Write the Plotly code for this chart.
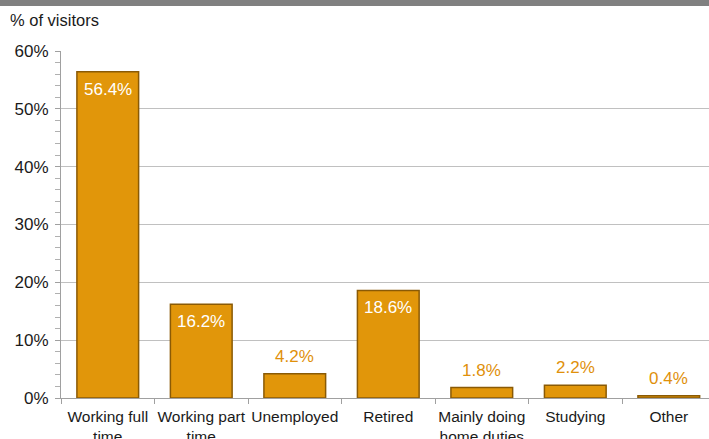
import plotly.graph_objects as go

categories = ["Working full<br>time", "Working part<br>time", "Unemployed", "Retired",
              "Mainly doing<br>home duties", "Studying", "Other"]
values = [56.4, 16.2, 4.2, 18.6, 1.8, 2.2, 0.4]
y_ticks = [0, 10, 20, 30, 40, 50, 60]
y_tick_labels = [f"{t}%" for t in y_ticks]

BAR = "#E1960A"
EDGE = "#8A5A05"
LABEL_ORANGE = "#E0900A"
FONT = "Liberation Sans, Arial, sans-serif"

fig = go.Figure()
fig.add_trace(go.Bar(
    x=list(range(len(categories))), y=values, width=0.66,
    marker=dict(color=BAR, line=dict(color=EDGE, width=1.5)),
    hoverinfo="skip",
))

for i, v in enumerate(values):
    inside = v > 10
    fig.add_annotation(
        x=i, y=v, xref="x", yref="y", text=f"{v:.1f}%", showarrow=False,
        yanchor="top" if inside else "bottom",
        yshift=-6 if inside else 6,
        font=dict(family=FONT, size=17, color="white" if inside else LABEL_ORANGE),
    )

fig.add_annotation(x=0, y=1, xref="paper", yref="paper", xanchor="left", yanchor="top",
                   text="% of visitors", showarrow=False,
                   font=dict(family=FONT, size=16.5, color="#1a1a1a"),
                   xshift=8 - 61, yshift=51 - 9)

fig.update_layout(
    width=709, height=439,
    margin=dict(l=61, r=0, t=51, b=41, autoexpand=False),
    plot_bgcolor="white", paper_bgcolor="white",
    showlegend=False,
    font=dict(family=FONT, size=16, color="#1a1a1a"),
    shapes=[dict(type="rect", xref="paper", yref="paper", x0=-0.2, x1=1.1,
                 y0=1 + 45 / 347, y1=1 + 52 / 347,
                 fillcolor="#808080", line=dict(width=0))],
)

fig.update_xaxes(
    range=[-0.5, 6.43], tickmode="array", tickvals=list(range(len(categories))),
    ticktext=categories, showgrid=False, showline=True, linecolor="#a0a0a0", linewidth=1,
    ticks="", tickfont=dict(family=FONT, size=15.5, color="#1a1a1a"),
    ticklabelstandoff=4, automargin=False,
    zeroline=False, fixedrange=True,
    minor=dict(tickvals=[i - 0.5 for i in range(len(categories) + 1)], ticks="outside",
               ticklen=5, tickcolor="#a0a0a0", showgrid=False),
)
fig.update_yaxes(
    range=[0, 60], tickmode="array", tickvals=y_ticks, ticktext=y_tick_labels,
    showgrid=True, gridcolor="#c0c0c0", gridwidth=1,
    showline=True, linecolor="#a0a0a0", linewidth=1,
    ticks="outside", ticklen=5, tickcolor="#a0a0a0",
    tickfont=dict(family=FONT, size=17, color="#1a1a1a"),
    ticklabelstandoff=3, automargin=False,
    zeroline=False,
    minor=dict(dtick=2, ticks="outside", ticklen=5, tickcolor="#b0b0b0", showgrid=False),
)

fig.write_html("out.html")
